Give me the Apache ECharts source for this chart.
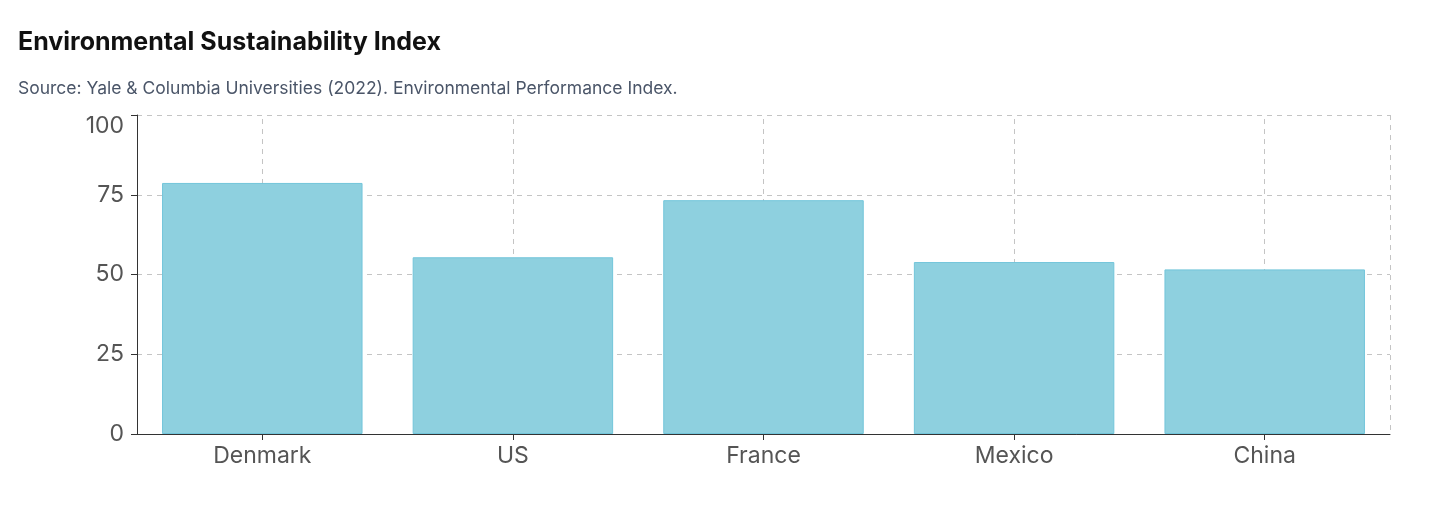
<!DOCTYPE html>
<html>
<head>
<meta charset="utf-8">
<script src="https://cdn.jsdelivr.net/npm/echarts@6/dist/echarts.min.js"></script>
<style>
html,body{margin:0;padding:0;background:#fff;}
#c{width:1456px;height:509px;}
</style>
</head>
<body>
<div id="c"></div>
<script>
const titleText = "Environmental Sustainability Index";
const subtitleText = "Source: Yale & Columbia Universities (2022). Environmental Performance Index.";
const categories = ["Denmark", "US", "France", "Mexico", "China"];
const values = [78.7, 55.4, 73.3, 53.9, 51.6];
const yTicks = [0, 25, 50, 75, 100];

const FONT = 'Inter, Roboto, sans-serif';
const chart = echarts.init(document.getElementById('c'), null, {renderer: 'canvas'});
chart.setOption({
  backgroundColor: '#ffffff',
  animation: false,
  title: {
    text: titleText,
    subtext: subtitleText,
    left: 18,
    top: 30,
    padding: 0,
    itemGap: 25,
    textStyle: {fontFamily: FONT, fontSize: 25, fontWeight: 'bold', color: '#111111'},
    subtextStyle: {fontFamily: FONT, fontSize: 17.5, color: '#4a5568'}
  },
  grid: {left: 137, right: 66, top: 115, bottom: 75, containLabel: false},
  xAxis: {
    type: 'category',
    data: categories,
    axisLine: {show: true, lineStyle: {color: '#333', width: 1}},
    axisTick: {show: true, alignWithLabel: true, length: 6, lineStyle: {color: '#333'}},
    axisLabel: {fontFamily: FONT, fontSize: 23, color: '#555', margin: 11},
    splitLine: {show: false}
  },
  yAxis: {
    type: 'value',
    min: yTicks[0],
    max: yTicks[yTicks.length - 1],
    interval: 25,
    axisLine: {show: true, lineStyle: {color: '#333', width: 1}},
    axisTick: {show: true, length: 6, lineStyle: {color: '#333'}},
    axisLabel: {fontFamily: FONT, fontSize: 23, color: '#555', margin: 13, verticalAlignMaxLabel: 'top'},
    splitLine: {show: true, lineStyle: {type: [5, 5], color: '#c4c4c4', width: 1}}
  },
  series: [{
    type: 'line',
    data: [],
    z: 1,
    silent: true,
    markLine: {
      z: 1,
      silent: true,
      symbol: ['none', 'none'],
      label: {show: false},
      lineStyle: {type: [5, 5], color: '#c4c4c4', width: 1},
      data: categories.map(c => ({xAxis: c}))
    }
  }, {
    type: 'bar',
    z: 3,
    data: values,
    barCategoryGap: '20%',
    itemStyle: {color: '#8ed0df', borderColor: '#72c5da', borderWidth: 1}
  }],
  graphic: [{
    type: 'line',
    z: -1,
    shape: {x1: 1390.5, y1: 115, x2: 1390.5, y2: 434},
    style: {stroke: '#c4c4c4', lineWidth: 1, lineDash: [5, 5]},
    silent: true
  }]
});
</script>
</body>
</html>
